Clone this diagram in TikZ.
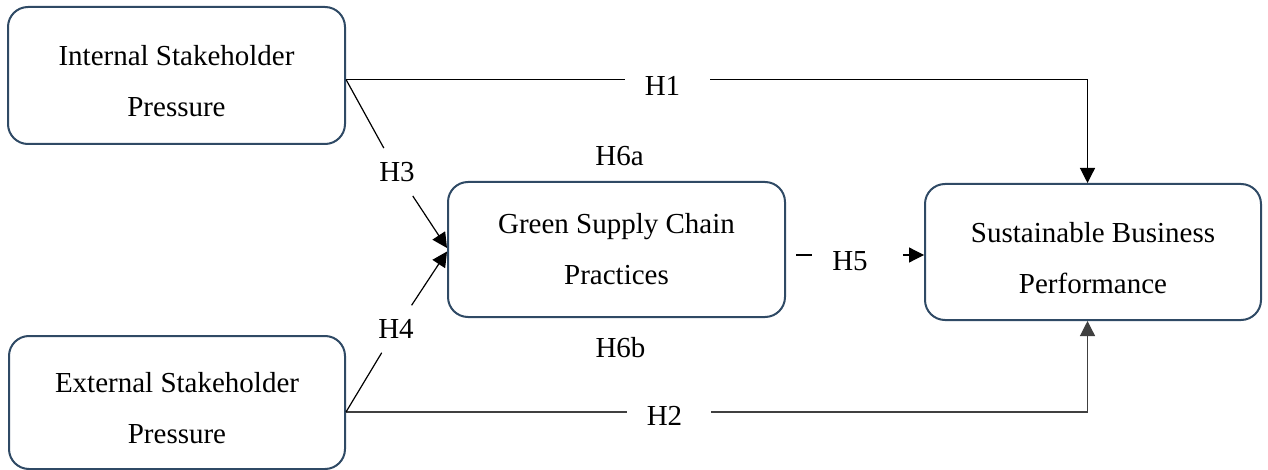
\documentclass[tikz,border=0pt]{standalone}
\usepackage{fontspec}
\setmainfont{Liberation Serif}
\usetikzlibrary{positioning, calc, arrows.meta}
\definecolor{boxblue}{HTML}{2F4A65}
\definecolor{linegray}{HTML}{404040}
\newcommand{\tallrow}{\rule{0pt}{37pt}}
\newcommand{\deeprow}{\rule[-6pt]{0pt}{6pt}}

\begin{document}
\begin{tikzpicture}[x=1pt, y=-1pt,
        txt/.style={font=\fontsize{29}{51}\selectfont},
        stage/.style={txt, draw=boxblue, line width=2pt, rounded corners=20pt, align=center, inner sep=0pt},
        hyp/.style={txt, inner xsep=20pt, inner ysep=14pt},
        link/.style={line width=1.2pt},
        arrow/.style={link, -{Triangle[length=15pt, width=15pt]}}]
        \useasboundingbox (0,0) rectangle (1268,470);
        %
        \node[stage, minimum width=337pt, minimum height=137pt] (isp) at (176.5,75.5) {\tallrow Internal Stakeholder\\Pressure\deeprow};
        \node[stage, minimum width=336pt, minimum height=133pt] (esp) at (177,402.5) {\tallrow External Stakeholder\\Pressure\deeprow};
        \node[stage, minimum width=337pt, minimum height=135pt] (gscp) at (616.5,249.5) {Green Supply Chain\\Practices};
        \node[stage, minimum width=336pt, minimum height=136pt] (sbp) at (1093,252) {\tallrow Sustainable Business\\Performance\deeprow};
        %
        \node[hyp] (h1) at (662.5,86) {H1};
        \node[hyp] (h2) at (664.5,415.5) {H2};
        \node[hyp] (h3) at (397,172) {H3};
        \node[hyp] (h4) at (396,329) {H4};
        \node[hyp] (h5) at (850,261.5) {H5};
        \node[txt] (h6a) at (619.5,156) {H6a};
        \node[txt] (h6b) at (620.5,347.5) {H6b};
        %
        \coordinate (i1) at ([yshift=-4pt]isp.east);
        \coordinate (e1) at ([yshift=-9.5pt]esp.east);
        \coordinate (g1) at ([yshift=-5.5pt]gscp.east);
        \coordinate (s1) at ([xshift=-5.5pt]sbp.north);
        \coordinate (s2) at ([xshift=-5.5pt]sbp.south);
        %
        \draw[link] (i1) -- (i1 -| h1.west);
        \draw[arrow, shorten <=10pt] (h1.east |- i1) -| (s1);
        %
        \draw[link, draw=linegray] (e1) -- (e1 -| h2.west);
        \draw[arrow, draw=linegray, shorten <=9pt] (h2.east |- e1) -| (s2);
        %
        \draw[link] (i1) -- (h3);
        \draw[arrow] (h3) -- ([yshift=1.5pt]gscp.west);
        \draw[link] (e1) -- (h4);
        \draw[arrow] (h4) -- ([yshift=-2pt]gscp.west);
        %
        \draw[link, shorten <=10pt] (g1) -- (g1 -| h5.west);
        \draw[arrow, shorten <=15pt] (g1 -| h5.east) -- (g1 -| sbp.west);
\end{tikzpicture}
\end{document}
